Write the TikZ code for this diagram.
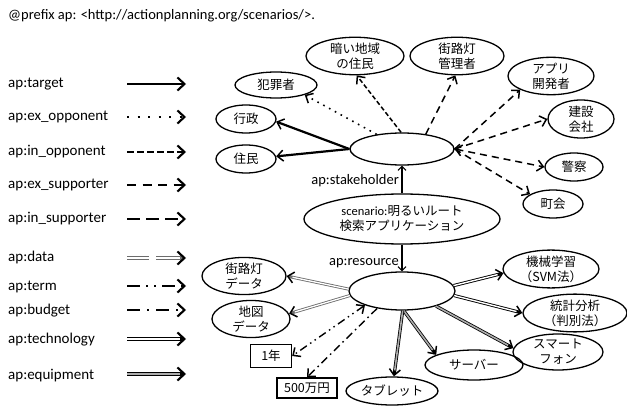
\documentclass[tikz,border=0pt]{standalone}
\usepackage{fontspec}
\setmainfont{Carlito}
\newfontfamily\cjk{Noto Sans CJK JP}
\usetikzlibrary{shapes.geometric,arrows.meta}
\tikzset{
  ell/.style={ellipse, draw, line width=1.3pt, inner sep=0pt, align=center,
    font=\cjk\fontsize{12.5}{15}\selectfont},
  boxn/.style={rectangle, draw, line width=1.3pt, inner sep=0pt,
    font=\cjk\fontsize{12.5}{15}\selectfont},
  lab/.style={anchor=west, inner sep=0pt, font=\fontsize{15}{17}\selectfont},
  elab/.style={anchor=east, inner sep=0pt, font=\fontsize{14.5}{16}\selectfont},
  gt/.style={-{Straight Barb[length=6pt,width=11pt,line width=1.5pt,color=black]}},
  gtt/.style={{Straight Barb[length=6pt,width=11pt,line width=1.5pt,color=black]}-{Straight Barb[length=6pt,width=11pt,line width=1.5pt,color=black]}},
  lt/.style={-{Straight Barb[length=7pt,width=13pt,line width=2.1pt,color=black]}},
  hubarrow/.style={line width=1.2pt, -{Straight Barb[length=4pt,width=8pt,line width=1.1pt]}},
  target/.style={line width=2.2pt},
  exopp/.style={line width=1.6pt, dash pattern=on 1.6pt off 5pt},
  inopp/.style={line width=1.5pt, dash pattern=on 4.5pt off 2.5pt},
  exsup/.style={line width=1.5pt, dash pattern=on 7pt off 5pt},
  insup/.style={line width=2pt, dash pattern=on 13pt off 6pt},
  termst/.style={line width=1.7pt, dash pattern=on 10pt off 5pt on 1.7pt off 5pt on 1.7pt off 5pt},
  budgetst/.style={line width=1.7pt, dash pattern=on 10pt off 5pt on 1.7pt off 5pt},
  datast/.style={draw=gray!85!black, line width=3.4pt,
    postaction={draw=white, line width=1.3pt, -, shorten >=6pt}},
  datastplain/.style={draw=gray!85!black, line width=3.4pt,
    postaction={draw=white, line width=1.3pt}},
  techst/.style={draw=black, line width=3.6pt,
    postaction={draw=white, line width=1.4pt, -, shorten >=6pt}},
  equipst/.style={draw=black, line width=3.6pt,
    postaction={draw=gray!65, line width=1.6pt, -, shorten >=6pt}},
}
\begin{document}
\begin{tikzpicture}[x=1pt, y=-1pt]
\useasboundingbox[fill=white] (0,0) rectangle (627,409);

% title
\node[anchor=west, inner sep=0pt, font=\fontsize{14.5}{16}\selectfont] (title) at (8,16)
  {@prefix ap: <http://actionplanning.org/scenarios/>.};

% legend labels
\node[lab] (l1) at (8,84) {ap:target};
\node[lab] (l2) at (8,117) {ap:ex\_opponent};
\node[lab] (l3) at (8,152) {ap:in\_opponent};
\node[lab] (l4) at (8,185) {ap:ex\_supporter};
\node[lab] (l5) at (8,219) {ap:in\_supporter};
\node[lab] (l6) at (8,258) {ap:data};
\node[lab] (l7) at (8,287) {ap:term};
\node[lab] (l8) at (8,311) {ap:budget};
\node[lab] (l9) at (8,340) {ap:technology};
\node[lab] (l10) at (8,376) {ap:equipment};

% legend arrows
\coordinate (a1) at (127,84);  \coordinate (b1) at (186,84);
\coordinate (a2) at (127,117); \coordinate (b2) at (186,117);
\coordinate (a3) at (127,152); \coordinate (b3) at (186,152);
\coordinate (a4) at (127,185); \coordinate (b4) at (186,185);
\coordinate (a5) at (127,219); \coordinate (b5) at (186,219);
\coordinate (a6) at (127,258); \coordinate (m6) at (149,258);
\coordinate (n6) at (156,258); \coordinate (b6) at (186,258);
\coordinate (a7) at (127,286); \coordinate (b7) at (186,286);
\coordinate (a8) at (127,310); \coordinate (b8) at (186,310);
\coordinate (a9) at (127,339); \coordinate (b9) at (186,339);
\coordinate (a10) at (127,374); \coordinate (b10) at (186,374);
\draw[target, lt] (a1) -- (b1);
\draw[exopp, line width=2.2pt, dash pattern=on 2pt off 8.5pt, lt] (a2) -- (b2);
\draw[inopp, line width=2pt, dash pattern=on 6.5pt off 3.5pt, lt] (a3) -- (b3);
\draw[exsup, line width=2pt, dash pattern=on 9pt off 6.5pt, lt] (a4) -- (b4);
\draw[insup, lt] (a5) -- (b5);
\draw[datastplain] (a6) -- (m6);
\draw[datast, lt] (n6) -- (b6);
\draw[termst, line width=2pt, dash pattern=on 13pt off 6pt on 2pt off 6pt on 2pt off 6pt, lt] (a7) -- (b7);
\draw[budgetst, line width=2pt, dash pattern=on 13pt off 7pt on 2pt off 7pt, lt] (a8) -- (b8);
\draw[techst, lt] (a9) -- (b9);
\draw[equipst, lt] (a10) -- (b10);

% hub nodes
\node[ell, minimum width=104pt, minimum height=32pt] (sh) at (402,149) {};
\node[ell, minimum width=196pt, minimum height=50pt] (scen) at (402,219)
  {{\normalfont scenario:}明るいルート\\検索アプリケーション};
\node[ell, minimum width=106pt, minimum height=38pt] (res) at (402,291) {};
\node[elab] (lsh) at (399,181) {ap:stakeholder};
\node[elab] (lres) at (399,263) {ap:resource};

% stakeholders
\node[ell, minimum width=82pt, minimum height=26pt] (hanzai) at (276,85) {犯罪者};
\node[ell, minimum width=98pt, minimum height=34pt] (kurai) at (355,56) {暗い地域\\の住民};
\node[ell, minimum width=94pt, minimum height=34pt] (kanri) at (457,56) {街路灯\\管理者};
\node[ell, minimum width=86pt, minimum height=32pt] (appli) at (551,76) {アプリ\\開発者};
\node[ell, minimum width=66pt, minimum height=38pt] (kensetsu) at (581,119) {建設\\会社};
\node[ell, minimum width=58pt, minimum height=28pt] (keisatsu) at (574,167) {警察};
\node[ell, minimum width=60pt, minimum height=28pt] (chokai) at (553,204) {町会};
\node[ell, minimum width=60pt, minimum height=28pt] (gyosei) at (246,119) {行政};
\node[ell, minimum width=60pt, minimum height=28pt] (jumin) at (246,159) {住民};

% resources
\node[ell, minimum width=84pt, minimum height=32pt] (gdata) at (244,276) {街路灯\\データ};
\node[ell, minimum width=78pt, minimum height=32pt] (chizu) at (251,319) {地図\\データ};
\node[boxn, minimum width=41pt, minimum height=23pt] (nen) at (271,356) {1年};
\node[boxn, minimum width=60pt, minimum height=20pt] (man) at (307,388) {500万円};
\node[ell, minimum width=92pt, minimum height=28pt] (tablet) at (392,391) {タブレット};
\node[ell, minimum width=98pt, minimum height=30pt] (server) at (474,365) {サーバー};
\node[ell, minimum width=90pt, minimum height=32pt] (smart) at (558,352) {スマート\\フォン};
\node[ell, minimum width=104pt, minimum height=32pt] (stat) at (575,313) {統計分析\\（判別法）};
\node[ell, minimum width=96pt, minimum height=30pt] (kikai) at (551,269) {機械学習\\（SVM法）};

% hub links
\draw[hubarrow] (scen) -- (sh);
\draw[hubarrow] (scen) -- (res);

% stakeholder edges
\draw[target, gt] (sh.180) -- (gyosei.-5);
\draw[target, gt] (sh.180) -- (jumin.5);
\draw[exopp, gt] (sh.150) -- (hanzai.-19);
\draw[inopp, gt] (sh.93) -- (kurai.-85);
\draw[exsup, gt] (sh.32) -- (kanri.-95);
\draw[exsup, gt] (sh.0) -- (appli.204);
\draw[exsup, gt] (sh.0) -- (kensetsu.west);
\draw[exsup, gtt] (sh.0) -- (keisatsu.west);
\draw[exsup, gt] (sh.0) -- (chokai.157);

% resource edges
\draw[datast, line width=3pt, postaction={line width=1.1pt}, gt] (res.178) -- (gdata.east);
\draw[datast, line width=3pt, postaction={line width=1.1pt}, gt] (res.185) -- (chizu.8);
\draw[termst, gtt, line width=1.4pt, dash pattern=on 8pt off 4pt on 1.5pt off 4pt on 1.5pt off 4pt] (res.201) -- (nen.east);
\draw[budgetst, gt, line width=1.4pt, dash pattern=on 8pt off 4pt on 1.5pt off 4pt] (res.215) -- (man.north);
\draw[techst, line width=3.2pt, gt] (res.6) -- (kikai.185);
\draw[techst, line width=3.2pt, gt] (res.-5) -- (stat.180);
\draw[equipst, line width=3.2pt, gt] (res.-24) -- (smart.175);
\draw[equipst, line width=3.2pt, gt] (res.275) -- (server.165);
\draw[equipst, line width=3.2pt, gt] (res.272) -- (tablet);
\end{tikzpicture}
\end{document}
